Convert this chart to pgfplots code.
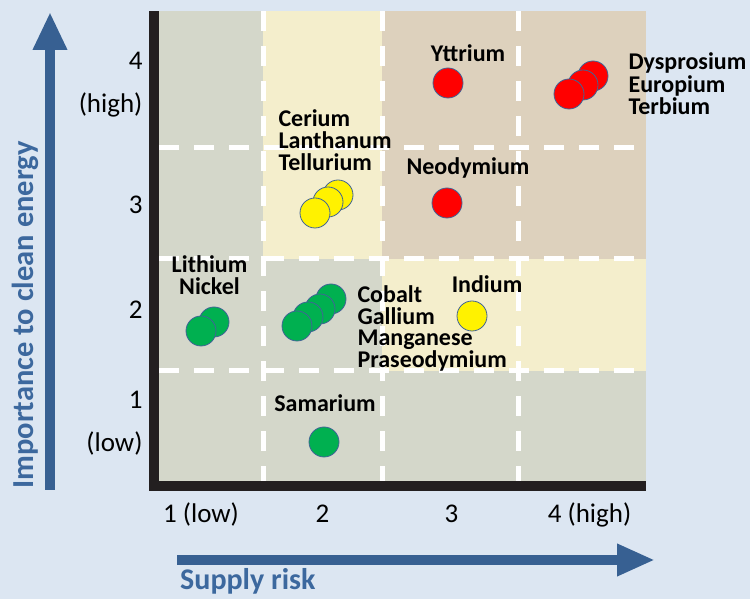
\documentclass[border=0pt]{standalone}
\usepackage{fontspec}
\setmainfont{Carlito}
\usepackage{pgfplots}
\pgfplotsset{compat=1.18}
\usetikzlibrary{arrows.meta}
\definecolor{bg}{RGB}{220,230,242}
\definecolor{cgrey}{RGB}{212,215,202}
\definecolor{cyel}{RGB}{244,238,204}
\definecolor{ctan}{RGB}{221,209,189}
\definecolor{arrowblue}{RGB}{55,96,146}
\definecolor{txtblue}{RGB}{60,104,158}
\definecolor{edge}{RGB}{65,100,150}
\definecolor{cgreen}{RGB}{0,176,80}
\definecolor{axblack}{RGB}{35,31,32}
\newcommand{\lab}{\bfseries\fontsize{24}{22}\selectfont}
\begin{document}
\begin{tikzpicture}[x=1pt,y=1pt]
\fill[bg] (0,0) rectangle (750,599);
\useasboundingbox (0,0) rectangle (750,599);
\draw[arrowblue, line width=10pt, -{Triangle[length=38pt,width=32pt]}] (50,109) -- (50,587);
\draw[arrowblue, line width=10pt, -{Triangle[length=38pt,width=30pt]}] (177,39) -- (655,39);
\node[txtblue, font=\bfseries\fontsize{30}{36}\selectfont, anchor=base west, inner sep=0pt] at (180,9) {Supply risk};
\node[txtblue, font=\bfseries\fontsize{30.5}{36}\selectfont, rotate=90, anchor=base, inner sep=0pt] at (33,284) {Importance to clean energy};
\begin{axis}[at={(159pt,118pt)}, anchor=south west, scale only axis,
  width=487pt, height=470pt, xmin=0, xmax=487, ymin=0, ymax=470,
  clip=false, axis line style={draw=none}, major tick length=0pt,
  /pgf/number format/assume math mode=true,
  xtick={42,163.5,292.5,430.5}, xticklabels={1 (low),2,3,4 (high)},
  ytick={58,171,276,396}, yticklabels={{1\\(low)},2,3,{4\\(high)}},
  xticklabel style={anchor=base, yshift=-42pt, font=\fontsize{27}{43}\selectfont},
  yticklabel style={align=right, anchor=east, xshift=-13pt, font=\fontsize{27}{43}\selectfont},
  mark options={draw=edge, line width=0.8pt}]
\fill[cgrey] (axis cs:0,0) rectangle (axis cs:487,470);
\fill[cyel] (axis cs:104,222) rectangle (axis cs:223,470);
\fill[ctan] (axis cs:223,222) rectangle (axis cs:487,470);
\fill[cyel] (axis cs:223,110) rectangle (axis cs:487,222);
\foreach \xx in {104,223,359} {
  \edef\tmp{\noexpand\draw[white, line width=5pt, dash pattern=on 20pt off 15pt] (axis cs:\xx,470) -- (axis cs:\xx,0);}\tmp
}
\foreach \yy in {333,222,110} {
  \edef\tmp{\noexpand\draw[white, line width=5pt, dash pattern=on 20pt off 15pt] (axis cs:0,\yy) -- (axis cs:487,\yy);}\tmp
}
\fill[axblack] (axis cs:-10,-10) rectangle (axis cs:0,470);
\fill[axblack] (axis cs:-10,-10) rectangle (axis cs:487,0);
% red
\addplot[only marks, mark=*, mark size=15pt, mark options={fill=red, draw=edge, line width=0.8pt}] coordinates {(434,405) (424,396) (410,387) (289,398) (288,278)};
% yellow
\addplot[only marks, mark=*, mark size=15pt, mark options={fill=yellow, draw=edge, line width=0.8pt}] coordinates {(179,286) (169,279) (156,268) (313,165)};
% green
\addplot[only marks, mark=*, mark size=15pt, mark options={fill=cgreen, draw=edge, line width=0.8pt}] coordinates {(55,159) (42,150) (172,182) (161,172) (149,164) (138,155) (165,39)};
% labels
\node[font=\lab, anchor=base] at (axis cs:309,419) {Yttrium};
\node[font=\lab, anchor=base west] at (axis cs:466,411) {Dysprosium};
\node[font=\lab, anchor=base west] at (axis cs:466,388.5) {Europium};
\node[font=\lab, anchor=base west] at (axis cs:466,366) {Terbium};
\node[font=\lab, anchor=base west] at (axis cs:116,354) {Cerium};
\node[font=\lab, anchor=base west] at (axis cs:116,332) {Lanthanum};
\node[font=\lab, anchor=base west] at (axis cs:116,310) {Tellurium};
\node[font=\lab, anchor=base] at (axis cs:309,306) {Neodymium};
\node[font=\lab, anchor=base] at (axis cs:50.5,208) {Lithium};
\node[font=\lab, anchor=base] at (axis cs:50.5,186) {Nickel};
\node[font=\lab, anchor=base west] at (axis cs:195,178) {Cobalt};
\node[font=\lab, anchor=base west] at (axis cs:195,156.5) {Gallium};
\node[font=\lab, anchor=base west] at (axis cs:195,135) {Manganese};
\node[font=\lab, anchor=base west] at (axis cs:195,113) {Praseodymium};
\node[font=\lab, anchor=base] at (axis cs:328,188) {Indium};
\node[font=\lab, anchor=base] at (axis cs:166,69) {Samarium};
\end{axis}
\end{tikzpicture}
\end{document}
